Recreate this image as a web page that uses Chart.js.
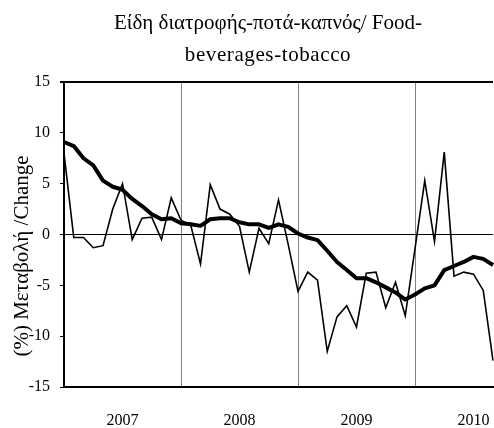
<!DOCTYPE html>
<html>
<head>
<meta charset="utf-8">
<script src="https://cdn.jsdelivr.net/npm/chart.js@4/dist/chart.umd.min.js"></script>
<style>
html,body{margin:0;padding:0;background:#fff;}
#wrap{width:494px;height:428px;}
</style>
</head>
<body>
<div id="wrap"><canvas id="c" width="494" height="428"></canvas></div>
<script>
const titleLines = ['Είδη διατροφής-ποτά-καπνός/ Food-', 'beverages-tobacco'];
const yAxisTitle = '(%) Μεταβολή /Change';
const years = ['2007', '2008', '2009', '2010'];
const monthsInLastYear = 9;
const yTicks = [-15, -10, -5, 0, 5, 10, 15];

// monthly % change (thin line)
const monthly = [
  8.0, -0.3, -0.3, -1.3, -1.1, 2.5, 5.0, -0.5, 1.6, 1.7, -0.5, 3.6,
  1.4, 0.9, -2.9, 4.9, 2.5, 2.0, 0.8, -3.7, 0.6, -0.9, 3.4, -1.0,
  -5.6, -3.7, -4.5, -11.5, -8.1, -7.0, -9.1, -3.8, -3.7, -7.2, -4.7, -8.0,
  -1.4, 5.3, -0.7, 8.1, -4.1, -3.7, -3.9, -5.5, -12.4
];
// trend (thick line)
const trend = [
  9.1, 8.7, 7.5, 6.8, 5.3, 4.7, 4.4, 3.5, 2.8, 2.0, 1.5, 1.6,
  1.1, 1.0, 0.85, 1.5, 1.6, 1.6, 1.2, 1.0, 1.0, 0.65, 1.0, 0.75,
  0.1, -0.3, -0.55, -1.6, -2.7, -3.5, -4.3, -4.3, -4.7, -5.2, -5.7, -6.4,
  -5.9, -5.3, -5.0, -3.5, -3.1, -2.7, -2.2, -2.4, -3.0
];

// category labels: one per month
const categories = [];
years.forEach((y, yi) => {
  const n = yi === years.length - 1 ? monthsInLastYear : 12;
  for (let m = 1; m <= n; m++) categories.push(y + '-' + String(m).padStart(2, '0'));
});

const FONT = "'Liberation Serif', 'Times New Roman', serif";

const textPlugin = {
  id: 'texts',
  afterDraw(chart) {
    const ctx = chart.ctx;
    ctx.save();
    ctx.fillStyle = '#000';
    ctx.font = '21px ' + FONT;
    ctx.textAlign = 'center';
    ctx.textBaseline = 'middle';
    ctx.fillText(titleLines[0], 268, 23);
    if ('letterSpacing' in ctx) ctx.letterSpacing = '0.6px';
    ctx.fillText(titleLines[1], 268, 55);
    if ('letterSpacing' in ctx) ctx.letterSpacing = '0px';
    ctx.translate(22, 256);
    ctx.rotate(-Math.PI / 2);
    ctx.fillText(yAxisTitle, 0, 0);
    ctx.restore();
  }
};

new Chart(document.getElementById('c'), {
  type: 'line',
  data: {
    labels: categories,
    datasets: [
      { label: 'monthly', data: monthly, borderColor: '#000', borderWidth: 1.6, pointRadius: 0, tension: 0, fill: false },
      { label: 'trend', data: trend, borderColor: '#000', borderWidth: 4, pointRadius: 0, tension: 0, fill: false, borderJoinStyle: 'round' }
    ]
  },
  options: {
    responsive: false,
    animation: false,
    layout: { padding: { top: 82, right: 1, bottom: 0, left: 0 } },
    plugins: { legend: { display: false }, title: { display: false }, tooltip: { enabled: false } },
    scales: {
      x: {
        type: 'category',
        offset: false,
        afterFit(s) { s.height = 41; s.paddingLeft = 0; s.paddingRight = 0; },
        grid: {
          offset: false,
          drawTicks: false,
          color: (c) => (c.index > 0 && c.index % 12 === 0) ? '#808080' : 'rgba(0,0,0,0)',
          lineWidth: 1
        },
        border: { display: true, color: '#000', width: 2 },
        ticks: {
          autoSkip: false,
          maxRotation: 0,
          padding: 24,
          color: '#000',
          font: { family: FONT, size: 16 },
          callback: (v, i) => (i % 12 === 6) ? years[Math.floor(i / 12)] : ''
        }
      },
      y: {
        min: -15, max: 15,
        afterBuildTicks(s) { s.ticks = yTicks.map(v => ({ value: v })); },
        afterFit(s) { s.width = 64; s.paddingTop = 0; s.paddingBottom = 0; },
        grid: {
          drawTicks: true,
          tickLength: 4,
          tickColor: '#000',
          color: (c) => (c.tick.value === 0 || c.tick.value === 15) ? '#000' : 'rgba(0,0,0,0)',
          lineWidth: (c) => c.tick.value === 15 ? 2 : 1
        },
        border: { display: true, color: '#000', width: 2 },
        ticks: {
          padding: 10,
          color: '#000',
          font: { family: FONT, size: 16 }
        }
      }
    }
  },
  plugins: [textPlugin]
});
</script>
</body>
</html>
